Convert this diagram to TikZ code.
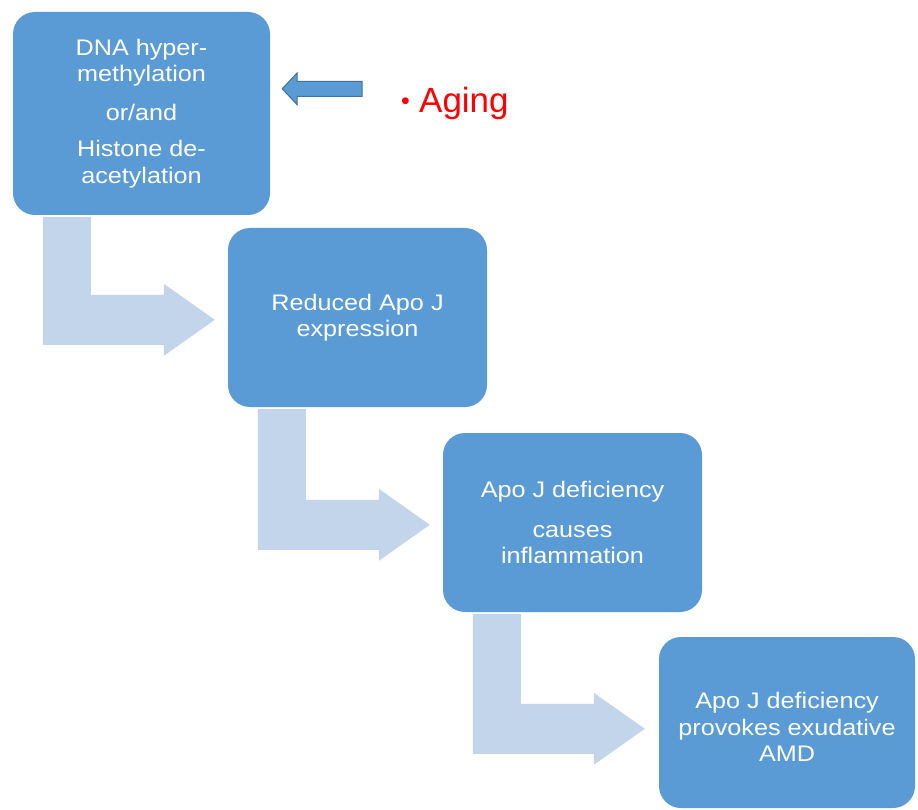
\documentclass[tikz,border=0pt]{standalone}
\usepackage{fontspec}
\setmainfont{Liberation Sans}
\newfontfamily\boxfont[FakeStretch=1.12]{Liberation Sans}
\usetikzlibrary{calc}
\definecolor{boxblue}{HTML}{5B9BD5}
\definecolor{arrowlight}{HTML}{C3D5EB}
\definecolor{edgeblue}{HTML}{41719C}
\definecolor{agingred}{HTML}{FF0000}
\begin{document}
\begin{tikzpicture}[x=1pt,y=-1pt,
  box/.style={rectangle, rounded corners=22pt, fill=boxblue, inner sep=0pt, text=white,
    align=center, font=\boxfont\fontsize{22.5}{26.5}\selectfont},
  bent/.style={fill=arrowlight, draw=none},
  agingarrow/.style={fill=boxblue, draw=edgeblue, line width=1pt, line join=miter},
  agingtext/.style={anchor=base west, inner sep=0pt, text=agingred, font=\fontsize{35}{40}\selectfont}]
\useasboundingbox (0,0) rectangle (918,810);
\fill[white] (0,0) rectangle (918,810);

\node[box, minimum width=257pt, minimum height=203pt] (b1) at (141.5,113.5)
  {DNA hyper-\\methylation\\[12pt]or/and\\[10pt]Histone de-\\acetylation};
\node[box, minimum width=259pt, minimum height=179pt] (b2) at (357.5,317.5)
  {Reduced Apo J\\expression};
\node[box, minimum width=259pt, minimum height=179pt] (b3) at (572.5,522.5)
  {Apo J deficiency\\[13.5pt]causes\\inflammation};
\node[box, minimum width=256pt, minimum height=171pt] (b4) at (787,722.5)
  {\rule{0pt}{25.5pt}Apo J deficiency\\provokes exudative\\AMD};

\node[agingtext] (aging) at (401,113) {\raisebox{3pt}{\fontsize{25}{25}\selectfont •}\hspace{9.2pt}Aging};

% bent arrows between boxes
\path let \p1=($(b1.south west)+(30,2)$), \p2=($(b2.north west)+(-13,92)$) in
  [bent] (\x1,\y1) -- (\x1+48pt,\y1) -- (\x1+48pt,\y2+25pt) -- (\x2-51pt,\y2+25pt)
  -- (\x2-51pt,\y2+36pt) -- (\x2,\y2) -- (\x2-51pt,\y2-36pt) -- (\x2-51pt,\y2-25pt)
  -- (\x1,\y2-25pt) -- cycle;
\path let \p1=($(b2.south west)+(30,2)$), \p2=($(b3.north west)+(-13,92)$) in
  [bent] (\x1,\y1) -- (\x1+48pt,\y1) -- (\x1+48pt,\y2+25pt) -- (\x2-51pt,\y2+25pt)
  -- (\x2-51pt,\y2+36pt) -- (\x2,\y2) -- (\x2-51pt,\y2-36pt) -- (\x2-51pt,\y2-25pt)
  -- (\x1,\y2-25pt) -- cycle;
\path let \p1=($(b3.south west)+(30,2)$), \p2=($(b4.north west)+(-14,92)$) in
  [bent] (\x1,\y1) -- (\x1+48pt,\y1) -- (\x1+48pt,\y2+25pt) -- (\x2-51pt,\y2+25pt)
  -- (\x2-51pt,\y2+36pt) -- (\x2,\y2) -- (\x2-51pt,\y2-36pt) -- (\x2-51pt,\y2-25pt)
  -- (\x1,\y2-25pt) -- cycle;

% aging arrow
\path let \p1=($(b1.north east)+(12,77)$), \p2=($(aging.base west)+(-39,0)$) in
  [agingarrow] (\x1,\y1) -- (\x1+15pt,\y1+16pt) -- (\x1+15pt,\y1+7.5pt) -- (\x2,\y1+7.5pt)
  -- (\x2,\y1-7.5pt) -- (\x1+15pt,\y1-7.5pt) -- (\x1+15pt,\y1-16pt) -- cycle;
\end{tikzpicture}
\end{document}
